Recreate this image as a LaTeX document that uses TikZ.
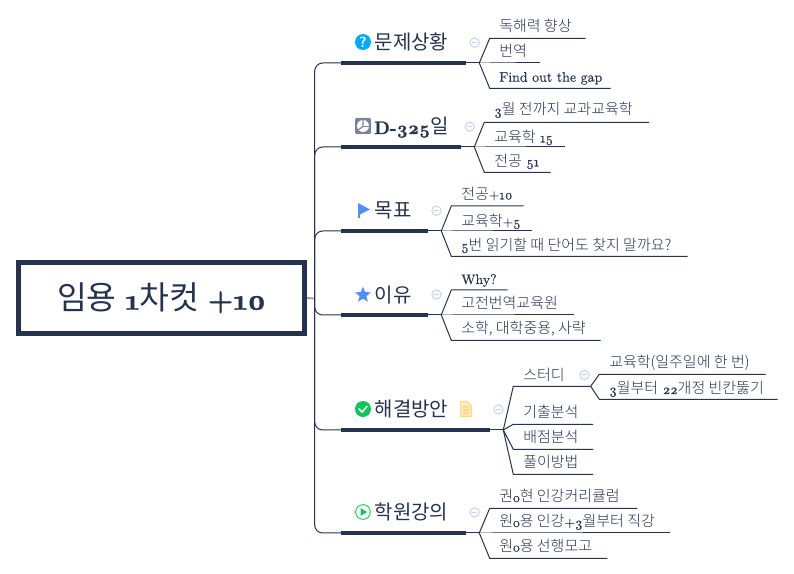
\documentclass[tikz,border=0pt]{standalone}
\usepackage{fontspec}
\usetikzlibrary{shapes.geometric}
\setmainfont{Latin Modern Roman}[Scale=0.9,Numbers=OldStyle,FakeBold=0.4,BoldFeatures={FakeBold=1.5}]
\newfontfamily\kr{Noto Sans CJK KR Light}[BoldFont={Noto Sans CJK KR}]
\newfontfamily\krt{Noto Sans CJK KR}
\newcommand{\K}[1]{{\kr #1}}
\newcommand{\KT}[1]{{\krt #1}}
\definecolor{ink}{HTML}{253350}
\definecolor{foldc}{HTML}{C5D3F0}
\definecolor{qblue}{HTML}{00A8FF}
\definecolor{fblue}{HTML}{4F8FF7}
\definecolor{okgreen}{HTML}{0CC65A}
\definecolor{playg}{HTML}{2AD66E}
\definecolor{notef}{HTML}{FFEBB5}
\definecolor{notes}{HTML}{FFD98A}
\definecolor{pie}{HTML}{7A83A3}
\tikzset{
  x=0.75pt,y=-0.75pt,
  rootbox/.style={draw=ink,line width=3.75pt,minimum width=214.5pt,minimum height=53.25pt,inner sep=0pt,text=ink,font=\fontsize{24.3}{26}\selectfont},
  link/.style={draw=ink,line width=0.75pt},
  rootlink/.style={draw=ink!50,line width=1.3pt},
  spine/.style={link,rounded corners=6pt},
  bar/.style={draw=ink,line width=3pt},
  topic/.style={anchor=base west,inner sep=0pt,text=ink,font=\fontsize{15}{16}\selectfont},
  leaf/.style={anchor=base west,inner sep=0pt,text=ink,font=\fontsize{11.25}{12}\selectfont},
  latinleaf/.style={leaf,font=\fontsize{11.55}{12}\selectfont},
  fold/.style={circle,draw=foldc,line width=0.75pt,minimum size=7pt,inner sep=0pt,path picture={\draw[foldc,line width=0.75pt] ([xshift=-2pt]path picture bounding box.center) -- ([xshift=2pt]path picture bounding box.center);}},
}
\begin{document}
\begin{tikzpicture}
\useasboundingbox (0,0) rectangle (794,574);
% root
\node[rootbox] (root) at (161.5,298) {\KT{임용} \textbf{1}\KT{차컷} \textbf{+10}};
\coordinate (sp) at (314.7,298.5);
\draw[rootlink] (root.east) -- (sp);
% bars
\foreach \n/\y/\e in {a/63/466,b/147/461,c/231/428,d/315/428,e/430/490,f/533/466}{
  \coordinate (bar\n s) at (341,\y);
  \coordinate (bar\n e) at (\e,\y);
  \draw[spine] (sp) |- (bar\n s);
  \draw[bar] (bar\n s) -- (bar\n e);
}
% topic labels
\node[topic] (ta) at (374.5,50) {\KT{문제상황}};
\node[topic] (tb) at (374,134) {\textbf{D-325}\KT{일}};
\node[topic] (tc) at (374.5,218) {\KT{목표}};
\node[topic] (td) at (374.5,303) {\KT{이유}};
\node[topic] (te) at (374.5,417) {\KT{해결방안}};
\node[topic] (tf) at (374.5,520) {\KT{학원강의}};
% icons
\node[circle,fill=qblue,minimum size=12pt,inner sep=0pt,text=white,font=\sffamily\bfseries\fontsize{11}{11}\selectfont] (ia) at (363,42) {?};
\node[fill=pie,minimum size=12pt,inner sep=0pt,rounded corners=1pt] (ib) at (363,126) {};
\fill[white] (ib.center) circle (6);
\draw[pie,line width=0.8pt] (363,120) -- (363,126.5) -- (358,130);
\draw[pie,line width=0.8pt] (363,126.5) -- (369,126.5);
\fill[fblue] (358,203) -- (370,209.5) -- (360,214.5) -- (360,218) -- (358,218) -- cycle;
\node[star,star points=5,star point ratio=2.3,fill=fblue,minimum size=12.5pt,inner sep=0pt] (id) at (363,295) {};
\node[circle,fill=okgreen,minimum size=12pt,inner sep=0pt] (ie) at (363,409) {};
\draw[white,line width=1.2pt,line cap=round,line join=round] (359,409) -- (362,412) -- (367,406.5);
\node[circle,draw=playg,line width=0.8pt,minimum size=11pt,inner sep=0pt] (if) at (363,512) {};
\fill[okgreen] (360.5,508) -- (367,512) -- (360.5,516) -- cycle;
\draw[notes,fill=notef,line width=0.7pt] (460.5,401.5) -- (467.5,401.5) -- (471.5,405.5) -- (471.5,416.5) -- (460.5,416.5) -- cycle;
\foreach \yy in {407,410,413}{\draw[notes,line width=1pt] (463,\yy) -- (469,\yy);}
% fold markers
\node[fold] (folda) at (474.7,42.7) {};
\node[fold] (foldb) at (469.7,126.7) {};
\node[fold] (foldc) at (436.5,210.7) {};
\node[fold] (foldd) at (436.5,294.5) {};
\node[fold] (folde) at (498.5,409.5) {};
\node[fold] (folds) at (584.5,375) {};
\node[fold] (foldf) at (474.7,512.5) {};
% junctions and branches
\coordinate (ja) at (479.3,63);
\coordinate (jb) at (474.3,147);
\coordinate (jc) at (441.3,231);
\coordinate (jd) at (441.3,315);
\coordinate (je) at (503.3,430);
\coordinate (js) at (590.7,386.3);
\coordinate (jf) at (479.3,533);
\foreach \n in {a,b,c,d,e,f}{\draw[link] (bar\n e) -- (j\n);}
\foreach \j/\x/\y/\e in {
  ja/489.7/38.3/585.7, ja/489.7/63/540, ja/489.7/88.3/610.7,
  jb/484.3/122.3/649, jb/484.3/147/565, jb/484.3/172.3/550.7,
  jc/451.3/206/523.7, jc/451.3/231/531.7, jc/451.3/256.3/687.7,
  jd/451.3/290/507.7, jd/451.3/315/574, jd/451.3/340.3/600.7,
  je/513.3/386.3/590.7, je/513.3/424.3/593, je/513.3/449.3/593, je/513.3/474.3/593,
  js/599.3/374.3/765.7, js/599.3/399.3/777.7,
  jf/489.7/508.3/637.3, jf/489.7/533/670, jf/489.7/558.3/607.3}{
  \draw[link] (\j) -- (\x,\y) -- (\e,\y);
}
% leaves
\node[leaf] (l1) at (499,31.3) {\K{독해력 향상}};
\node[leaf] (l2) at (499,56.3) {\K{번역}};
\node[latinleaf] (l3) at (499,81.7) {Find out the gap};
\node[leaf] (l4) at (494,115) {3\K{월 전까지 교과교육학}};
\node[leaf] (l5) at (494,142.3) {\K{교육학} 15};
\node[leaf] (l6) at (494,166.3) {\K{전공} 51};
\node[leaf] (l7) at (461,199.3) {\K{전공}+10};
\node[leaf] (l8) at (461,226.3) {\K{교육학}+5};
\node[leaf] (l9) at (461,250.3) {5\K{번 읽기할 때 단어도 찾지 말까요?}};
\node[latinleaf] (l10) at (461,284) {Why?};
\node[leaf] (l11) at (461,308.3) {\K{고전번역교육원}};
\node[leaf] (l12) at (461,333.3) {\K{소학, 대학중용, 사략}};
\node[leaf] (l13) at (523,380.3) {\K{스터디}};
\node[leaf] (l14) at (523,418) {\K{기출분석}};
\node[leaf] (l15) at (523,443) {\K{배점분석}};
\node[leaf] (l16) at (523,468) {\K{풀이방법}};
\node[leaf] (l17) at (609,368) {\K{교육학(일주일에 한 번)}};
\node[leaf] (l18) at (609,394) {3\K{월부터} 22\K{개정 빈칸뚫기}};
\node[leaf] (l19) at (499,502) {\K{권}o\K{현 인강커리큘럼}};
\node[leaf] (l20) at (499,527) {\K{원}o\K{용 인강}+3\K{월부터 직강}};
\node[leaf] (l21) at (499,551.6) {\K{원}o\K{용 선행모고}};
\end{tikzpicture}
\end{document}
